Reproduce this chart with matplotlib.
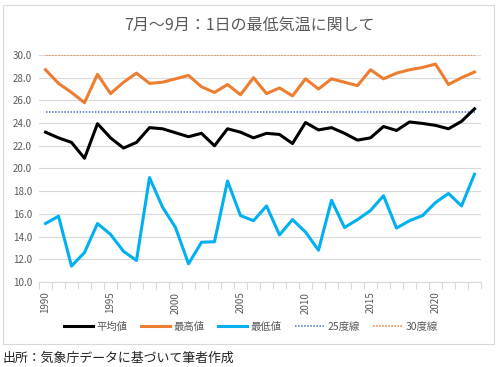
import matplotlib
matplotlib.use("Agg")
import matplotlib.pyplot as plt
from matplotlib.patches import Rectangle
from matplotlib.lines import Line2D

plt.rcParams['font.family'] = ['Noto Sans CJK JP', 'DejaVu Sans']

years = list(range(1990, 2024))
avg = [23.2, 22.7, 22.3, 20.9, 23.95, 22.7, 21.8, 22.3, 23.6, 23.5, 23.15, 22.8,
       23.1, 22.0, 23.5, 23.2, 22.7, 23.1, 23.0, 22.2, 24.05, 23.4, 23.6, 23.1,
       22.5, 22.7, 23.7, 23.35, 24.1, 23.97, 23.8, 23.5, 24.15, 25.26]
high = [28.7, 27.5, 26.7, 25.8, 28.3, 26.6, 27.6, 28.4, 27.5, 27.6, 27.9, 28.2,
        27.2, 26.7, 27.4, 26.5, 28.0, 26.6, 27.1, 26.4, 27.9, 27.0, 27.9, 27.6,
        27.3, 28.7, 27.9, 28.4, 28.7, 28.9, 29.2, 27.4, 28.0, 28.5]
low = [15.15, 15.8, 11.4, 12.6, 15.15, 14.2, 12.7, 11.9, 19.2, 16.6, 14.8, 11.6,
       13.5, 13.55, 18.9, 15.85, 15.4, 16.7, 14.15, 15.5, 14.4, 12.8, 17.2, 14.8,
       15.5, 16.3, 17.6, 14.75, 15.4, 15.85, 17.0, 17.8, 16.7, 19.5]
line25 = [25.0] * len(years)
line30 = [30.0] * len(years)

series_names = ['平均値', '最高値', '最低値', '25度線', '30度線']
title = '7月～9月：1日の最低気温に関して'
caption = '出所：気象庁データに基づいて筆者作成'
yticks = [10.0, 12.0, 14.0, 16.0, 18.0, 20.0, 22.0, 24.0, 26.0, 28.0, 30.0]

W, H = 500, 367
fig = plt.figure(figsize=(W / 100, H / 100), dpi=100)
ax = fig.add_axes([39 / W, 1 - 282 / H, (481 - 39) / W, (282 - 55) / H])

x = list(range(len(years)))
grey = '#D9D9D9'
txt = '#595959'

for v in yticks:
    ax.axhline(v, color=grey, lw=0.8, zorder=0)

ax.plot(x, line30, color='#ED7D31', lw=1.1, ls=(0, (1, 1)), zorder=2)
ax.plot(x, line25, color='#4472C4', lw=1.1, ls=(0, (1, 1)), zorder=2)
ax.plot(x, avg, color='#000000', lw=2.2, zorder=3, solid_joinstyle='round')
ax.plot(x, high, color='#ED7D31', lw=2.2, zorder=3, solid_joinstyle='round')
ax.plot(x, low, color='#00B0F0', lw=2.2, zorder=3, solid_joinstyle='round')

ax.set_xlim(-0.5, len(years) - 0.5)
ax.set_ylim(10, 30)
ax.set_yticks(yticks)
ax.set_yticklabels([f'{v:.1f}' for v in yticks], fontsize=7, color=txt)
ax.tick_params(axis='y', length=0, pad=5)

ax.set_xticks([i for i, y in enumerate(years) if y % 5 == 0])
ax.set_xticklabels([str(y) for y in years if y % 5 == 0], rotation=90,
                   fontsize=7, color=txt)
ax.set_xticks([i - 0.5 for i in range(len(years) + 1)], minor=True)
ax.tick_params(axis='x', which='major', length=0, pad=7)
ax.tick_params(axis='x', which='minor', length=5, color=grey, width=0.8)

for s in ['top', 'right', 'left']:
    ax.spines[s].set_visible(False)
ax.spines['bottom'].set_color(grey)
ax.spines['bottom'].set_linewidth(0.8)

fig.text(0.5, 1 - 25 / H, title, ha='center', va='center', fontsize=11.5, color=txt)

handles = [
    Line2D([], [], color='#000000', lw=2.2),
    Line2D([], [], color='#ED7D31', lw=2.2),
    Line2D([], [], color='#00B0F0', lw=2.2),
    Line2D([], [], color='#4472C4', lw=1.1, ls=(0, (1, 1))),
    Line2D([], [], color='#ED7D31', lw=1.1, ls=(0, (1, 1))),
]
leg = fig.legend(handles, series_names, loc='center', bbox_to_anchor=(251 / W, 1 - 327 / H),
                 ncol=5, frameon=False, fontsize=7.5, handlelength=2.8, handletextpad=0.3,
                 columnspacing=1.3)
for t in leg.get_texts():
    t.set_color(txt)

fig.patches.append(Rectangle((3 / W, 1 - 344 / H), (494 - 3) / W, (344 - 5) / H,
                             transform=fig.transFigure, fill=False, edgecolor=grey, lw=0.8))

fig.text(3 / W, 1 - 358 / H, caption, ha='left', va='center', fontsize=9.3, color='#222222')

fig.savefig('out.png', dpi=100)
